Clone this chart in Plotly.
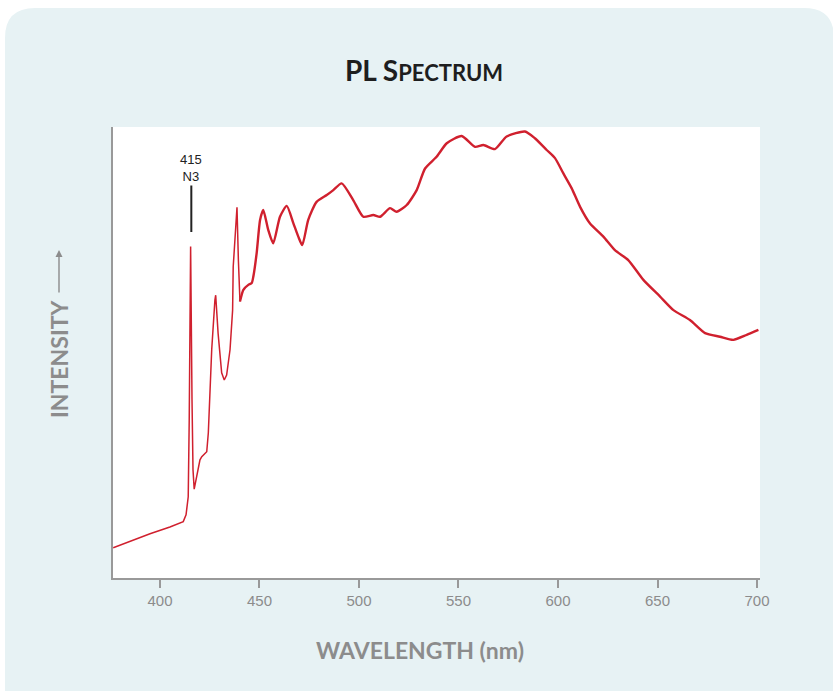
import plotly.graph_objects as go

# ---- data ----
wavelength = [376.5, 385.0, 395.0, 405.0, 411.7, 413.1, 414.2, 414.7, 415.4, 416.1,
              416.6, 417.2, 420.1, 421.0, 423.5, 424.3, 425.1, 426.0, 427.6, 428.0,
              429.2, 431.0, 432.3, 433.5, 435.2, 436.5, 436.8, 437.7, 438.7, 439.4,
              440.2, 441.9, 444.4, 446.1, 446.9, 448.6, 450.3, 451.9, 454.4, 456.9,
              460.3, 463.7, 467.0, 469.5, 471.5, 474.5, 478.7, 483.8, 487.1, 491.3,
              497.1, 502.2, 507.2, 510.6, 515.6, 518.9, 524.0, 529.0, 533.2, 539.0,
              544.1, 551.6, 558.3, 562.5, 568.3, 574.2, 583.4, 588.4, 594.3, 598.5,
              602.7, 606.9, 611.1, 616.1, 622.8, 628.6, 635.3, 642.9, 651.3, 658.0,
              666.3, 673.9, 681.4, 688.1, 694.8, 700.7]
intensity = [6.7, 8.2, 9.8, 11.3, 12.5, 14.0, 18.0, 35.0, 73.5, 39.5,
             24.0, 19.7, 26.2, 26.9, 28.0, 32.2, 41.0, 50.6, 61.6, 62.7,
             54.3, 45.5, 43.9, 45.0, 50.6, 59.4, 69.0, 76.5, 82.2, 70.5,
             61.3, 63.9, 65.0, 65.4, 66.8, 72.1, 79.4, 81.6, 77.2, 74.2,
             80.1, 82.5, 78.7, 75.7, 73.8, 79.4, 83.4, 84.9, 86.0, 87.5,
             83.8, 80.1, 80.5, 80.1, 82.0, 81.2, 82.7, 86.0, 90.8, 93.4,
             96.4, 98.0, 95.6, 96.0, 95.1, 97.9, 99.0, 97.5, 94.9, 93.1,
             89.7, 86.4, 82.3, 78.6, 75.7, 72.7, 70.5, 66.1, 62.4, 59.4,
             57.2, 54.3, 53.5, 52.8, 53.9, 55.0]
x_ticks = [400, 450, 500, 550, 600, 650, 700]
x_tick_labels = ["400", "450", "500", "550", "600", "650", "700"]
peak_wavelength = 415
peak_label = "415<br>N3"

# ---- layout geometry ----
W, H = 833, 691
L, R, T, B = 113, 73, 127, 113
pw, ph = W - L - R, H - T - B

def fx(px):
    return (px - L) / pw

def fy(py):
    return (H - B - py) / ph

RED = "#d0202e"
GRAY = "#8c8c8c"
PANEL = "#e7f2f4"

split = wavelength.index(440.2)

fig = go.Figure()
fig.add_trace(go.Scatter(x=wavelength[:split + 1], y=intensity[:split + 1], mode="lines",
                         line=dict(color=RED, width=1.5), hoverinfo="skip", showlegend=False))
fig.add_trace(go.Scatter(x=wavelength[split:], y=intensity[split:], mode="lines",
                         line=dict(color=RED, width=2.4, shape="spline", smoothing=0.6),
                         hoverinfo="skip", showlegend=False))

# panel with rounded top corners
px0, py0, px1, py1, r = 5, 8, 834, 692, 30
path = (f"M {fx(px0)} {fy(py1)} L {fx(px0)} {fy(py0 + r)} "
        f"Q {fx(px0)} {fy(py0)} {fx(px0 + r)} {fy(py0)} "
        f"L {fx(px1 - r)} {fy(py0)} Q {fx(px1)} {fy(py0)} {fx(px1)} {fy(py0 + r)} "
        f"L {fx(px1)} {fy(py1)} Z")
shapes = [
    dict(type="path", path=path, xref="paper", yref="paper", fillcolor=PANEL,
         line=dict(width=0), layer="below"),
    dict(type="rect", x0=0, x1=1, y0=0, y1=1, xref="paper", yref="paper",
         fillcolor="white", line=dict(width=0), layer="below"),
]

annotations = [
    # title
    dict(text="PL S<span style='font-size:22px'>PECTRUM</span>", xref="paper", yref="paper",
         x=fx(424), y=fy(70), xanchor="center", yanchor="middle", showarrow=False,
         font=dict(family="Lato", size=28, color="#1e1e1e", weight="bold")),
    # x axis title
    dict(text="WAVELENGTH (nm)", xref="paper", yref="paper",
         x=fx(420), y=fy(650), xanchor="center", yanchor="middle", showarrow=False,
         font=dict(family="Lato", size=23, color=GRAY, weight="bold")),
    # y axis title
    dict(text="INTENSITY", xref="paper", yref="paper", textangle=-90,
         x=fx(59), y=fy(358), xanchor="center", yanchor="middle", showarrow=False,
         font=dict(family="Lato", size=23, color=GRAY, weight="bold")),
    dict(text="", xref="paper", yref="paper", x=fx(59), y=fy(250), ax=0, ay=44,
         showarrow=True, arrowhead=2, arrowsize=1, arrowwidth=1.4, arrowcolor=GRAY),
    # peak label
    dict(text=peak_label, x=peak_wavelength, xref="x", yref="paper", y=fy(232),
         ax=0, ay=-64, xshift=1.5, showarrow=True, arrowhead=0, arrowwidth=2,
         arrowcolor="#222222", standoff=0,
         font=dict(family="Liberation Sans, Arial", size=13, color="#222222")),
]

fig.update_layout(
    width=W, height=H,
    margin=dict(l=L, r=R, t=T, b=B),
    paper_bgcolor="white",
    plot_bgcolor="rgba(0,0,0,0)",
    shapes=shapes,
    annotations=annotations,
    showlegend=False,
    hovermode=False,
    xaxis=dict(range=[376.4, 701.5], tickvals=x_ticks, ticktext=x_tick_labels,
               ticks="outside", ticklen=8, tickwidth=1.5, tickcolor="#999999",
               showline=True, linecolor="#999999", linewidth=1.5, showgrid=False,
               zeroline=False, tickfont=dict(family="Liberation Sans, Arial", size=15, color=GRAY)),
    yaxis=dict(range=[0, 100], showticklabels=False, ticks="", showgrid=False,
               zeroline=False, showline=True, linecolor="#999999", linewidth=1.5),
)

fig.write_html("out.html", config={"displayModeBar": False},
               post_script="document.body.style.margin='0';document.body.style.padding='0';")
